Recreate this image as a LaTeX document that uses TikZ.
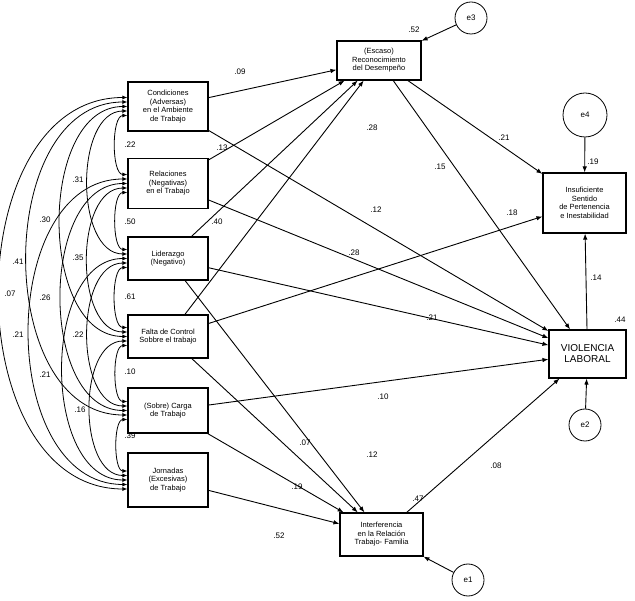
\documentclass[tikz,border=0pt]{standalone}
\usepackage{fontspec}
\setmainfont{Liberation Sans}
\usetikzlibrary{arrows.meta,calc}
\begin{document}
\begin{tikzpicture}[x=1pt,y=-1pt,
 box/.style={draw,line width=1.1pt,inner sep=1pt,align=center,font=\fontsize{7.5}{8.5}\selectfont},
 arr/.style={-{Latex[length=6pt,width=4.5pt]},line width=0.9pt},
 cov/.style={{Latex[length=5pt,width=4pt]}-{Latex[length=5pt,width=4pt]},line width=0.8pt},
 err/.style={draw,circle,line width=0.8pt,font=\fontsize{8}{9}\selectfont,inner sep=0pt},
 lab/.style={font=\fontsize{8}{9}\selectfont,inner sep=0pt}]
\useasboundingbox (0,0) rectangle (635,601);
\node[box,minimum width=80,minimum height=49] (c1) at (168,106.5) {Condiciones\\(Adversas)\\en el Ambiente\\de Trabajo};
\node[box,minimum width=80,minimum height=50] (c2) at (168,183.5) {Relaciones\\(Negativas)\\en el Trabajo};
\node[box,minimum width=80,minimum height=43] (c3) at (168,258.5) {Liderazgo\\(Negativo)};
\node[box,minimum width=80,minimum height=43] (c4) at (168,336.5) {Falta de Control\\Sobbre el trabajo};
\node[box,minimum width=80,minimum height=45] (c5) at (168,410.5) {(Sobre) Carga\\de Trabajo};
\node[box,minimum width=80,minimum height=54] (c6) at (168,480) {Jornadas\\(Excesivas)\\de Trabajo};
\node[box,minimum width=84,minimum height=39] (esc) at (379,60.5) {(Escaso)\\Reconocimiento\\del Desempeño};
\node[box,minimum width=83,minimum height=60] (ins) at (584.5,203) {Insuficiente\\Sentido\\de Pertenencia\\e Inestabilidad};
\node[box,minimum width=77,minimum height=48,font=\fontsize{10}{11}\selectfont] (vio) at (587.5,354) {VIOLENCIA\\LABORAL};
\node[box,minimum width=83,minimum height=43] (int) at (381.5,534.5) {Interferencia\\en la Relación\\Trabajo- Familia};
\node[err,minimum size=32] (e3) at (471,18) {e3};
\node[err,minimum size=44] (e4) at (585,115) {e4};
\node[err,minimum size=32] (e2) at (585,425) {e2};
\node[err,minimum size=32] (e1) at (468,580) {e1};
% covariances
\foreach \i/\j/\L in {1/2/0.7,2/3/0.7,3/4/0.7,4/5/0.7,5/6/0.7,
 1/3/0.95,2/4/0.95,3/5/0.95,4/6/0.95,1/4/1.0,2/5/1.0,3/6/1.0,1/5/1.1,2/6/1.1,1/6/1.12}{
 \pgfmathtruncatemacro\k{\j-\i}
 \draw[cov] ($(c\i.west)+(0,{(3-\k)*4.5})$) to[out=180,in=180,looseness=\L] ($(c\j.west)+(0,{-(3-\k)*4.5})$);
}
\foreach \p/\t in {{130,145}/.22,{130,222}/.50,{130,297}/.61,{130,372}/.10,{130,436}/.39,
 {78,180}/.31,{78,258}/.35,{78,335}/.22,{80,410}/.16,{45,220}/.30,{45,298}/.26,{45,375}/.21,
 {18,262}/.41,{18,335}/.21,{10,294}/.07}
 \node[lab] at (\p) {\t};
% paths
\draw[arr] (c1) -- (esc);
\draw[arr] (c1) -- (vio);
\draw[arr] (c2) -- (esc);
\draw[arr] (c2) -- (vio);
\draw[arr] (c3) -- (esc);
\draw[arr] (c3) -- (vio);
\draw[arr] (c3) -- (int);
\draw[arr] (c4) -- (esc);
\draw[arr] (c4) -- (ins);
\draw[arr] (c4) -- (int);
\draw[arr] (c5) -- (vio);
\draw[arr] (c5) -- (int);
\draw[arr] (c6) -- (int);
\draw[arr] (esc) -- (ins);
\draw[arr] (esc) -- (vio);
\draw[arr] (int) -- (vio);
\draw[arr] (vio) -- (ins);
\draw[arr] (e3) -- (esc);
\draw[arr] (e4) -- (ins);
\draw[arr] (e2) -- (vio);
\draw[arr] (e1) -- (int);
\foreach \p/\t in {{240,72}/.09,{376,210}/.12,{222,148}/.13,{354,253}/.28,{217,222}/.40,{432,318}/.21,
 {305,443}/.07,{372,128}/.28,{512,213}/.18,{372,455}/.12,{383,397}/.10,{297,487}/.19,{279,536}/.52,
 {504,138}/.21,{440,167}/.15,{496,466}/.08,{596,278}/.14,{414,30}/.52,{593,162}/.19,{620,320}/.44,{418,499}/.47}
 \node[lab] at (\p) {\t};
\end{tikzpicture}
\end{document}
